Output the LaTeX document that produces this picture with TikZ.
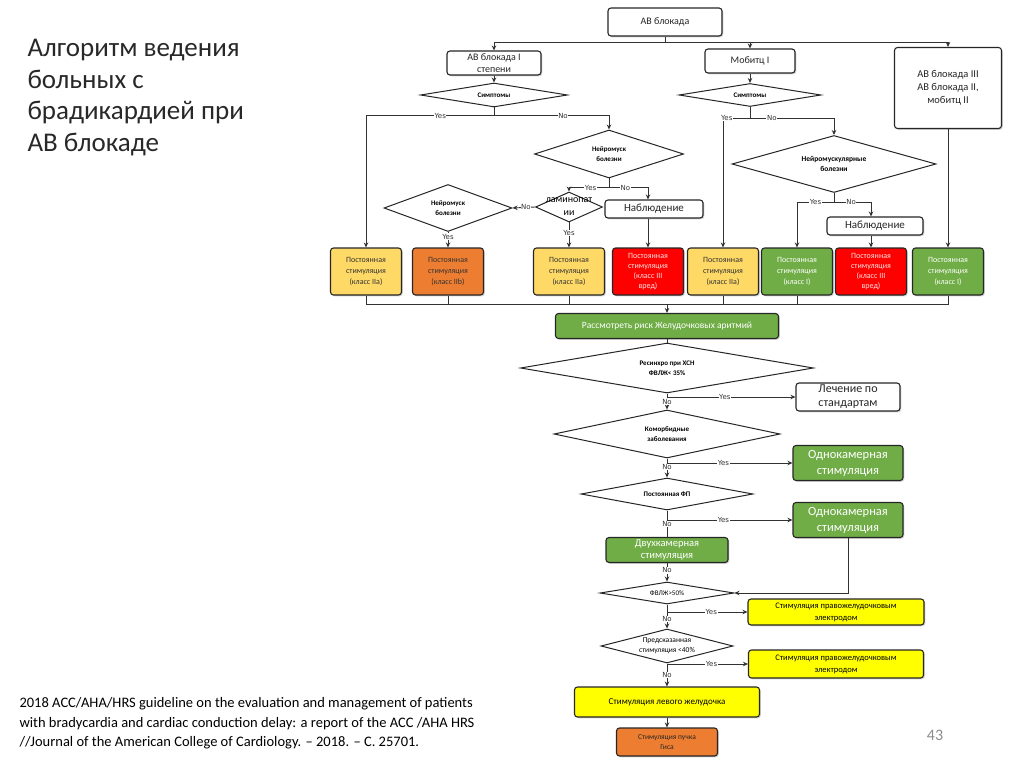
\documentclass[tikz,border=0pt]{standalone}
\usepackage{fontspec}
\setmainfont{Carlito}
\newfontfamily\lblfont{DejaVu Sans}
\usetikzlibrary{arrows.meta,shapes.geometric,shadows,calc}
\definecolor{pale}{RGB}{255,217,102}
\definecolor{orng}{RGB}{237,125,49}
\definecolor{grn}{RGB}{112,173,71}
\definecolor{rd}{RGB}{255,0,0}
\definecolor{ylw}{RGB}{255,255,0}
\definecolor{linegray}{RGB}{50,50,50}
\definecolor{titlegray}{RGB}{40,40,40}

\begin{document}
\begin{tikzpicture}
      [x = 1pt, y = -1pt,
      wire/.style = {draw = linegray, line width = 0.9pt},
      flow/.style = {wire, -{Stealth[length = 5pt, width = 4.5pt]}},
      box/.style = {
         draw = black!85,
         rounded corners = 3pt,
         line width = 1.1pt,
         align = center,
         inner sep = 1pt,
         drop shadow = {opacity = 0.35, shadow xshift = 1.3pt, shadow yshift = -1.3pt}
      },
      whitebox/.style = {box, fill = white, text = black!85},
      stim/.style = {box, minimum width = 71, minimum height = 47,
         font = \fontsize{8}{11}\selectfont},
      ask/.style = {
         draw = black!85,
         diamond,
         line width = 1pt,
         inner sep = 0pt,
         aspect = 5,
         align = center,
         fill = white,
         font = \fontsize{7}{10}\selectfont\bfseries
      },
      lbl/.style = {fill = white, inner sep = 0.6pt, text = black!80,
         font = \lblfont\fontsize{7}{7}\selectfont}]

      \useasboundingbox (0, 0) rectangle (1024, 767);

      % left column texts
      \node[anchor = north west, align = left, text = titlegray,
            font = \fontsize{27}{31.5}\selectfont] (title) at (24, 36)
            {Алгоритм ведения\\больных с\\брадикардией при\\АВ блокаде};
      \node[anchor = north west, align = left,
            font = \fontsize{14.5}{19.5}\selectfont] (source) at (16, 694)
            {2018 ACC/AHA/HRS guideline on the evaluation and management of patients\\
             with bradycardia and cardiac conduction delay: a report of the ACC /AHA HRS\\
             //Journal of the American College of Cardiology. -- 2018. -- С. 25701.};
      \node[text = black!45, font = \fontsize{16}{18}\selectfont] (pgnum) at (935, 735) {43};

      % upper part
      \node[whitebox, minimum width = 114, minimum height = 28,
            font = \fontsize{10}{12}\selectfont] (top) at (665, 22) {АВ блокада};
      \node[whitebox, minimum width = 94, minimum height = 24,
            font = \fontsize{10}{12}\selectfont] (ab1) at (494, 63) {АВ блокада I\\степени};
      \node[whitebox, minimum width = 90, minimum height = 24,
            font = \fontsize{10}{12}\selectfont] (mob) at (750, 61) {Мобитц I};
      \node[whitebox, minimum width = 107, minimum height = 81,
            font = \fontsize{10.5}{13}\selectfont] (ab3) at (948, 88)
            {АВ блокада III\\АВ блокада II,\\мобитц II};

      \node[ask, minimum width = 147, minimum height = 24] (sym1) at (494, 95) {Симптомы};
      \node[ask, minimum width = 142, minimum height = 23] (sym2) at (750, 95) {Симптомы};
      \node[ask, aspect = 3, minimum width = 149, minimum height = 48] (nm1) at (609, 154)
            {Нейромуск\\болезни};
      \node[ask, aspect = 3, minimum width = 204, minimum height = 57,
            font = \fontsize{7.5}{10}\selectfont\bfseries] (nmk) at (834, 164)
            {Нейромускулярные\\болезни};
      \node[ask, aspect = 3, minimum width = 128, minimum height = 47] (nm2) at (448, 208)
            {Нейромуск\\болезни};
      \node[ask, minimum width = 67, minimum height = 30] (lamin) at (569, 207) {};
      \node[align = center, font = \fontsize{10}{13}\selectfont] (lamintxt) at (569, 207)
            {ламинопат\\ии};

      \node[whitebox, minimum width = 98, minimum height = 18,
            font = \fontsize{11}{12}\selectfont] (obs1) at (654, 209) {Наблюдение};
      \node[whitebox, minimum width = 96, minimum height = 18,
            font = \fontsize{11}{12}\selectfont] (obs2) at (875, 226) {Наблюдение};

      % row of pacing classes
      \node[stim, fill = pale, text = black!80] (p1) at (366, 271.5)
            {Постоянная\\стимуляция\\(класс IIa)};
      \node[stim, fill = orng, text = black!80] (p2) at (448, 271.5)
            {Постоянная\\стимуляция\\(класс IIb)};
      \node[stim, fill = pale, text = black!80] (p3) at (569, 271.5)
            {Постоянная\\стимуляция\\(класс IIa)};
      \node[stim, fill = rd, text = red!10, font = \fontsize{8}{10}\selectfont] (p4) at (648, 271.5)
            {Постоянная\\стимуляция\\(класс III\\вред)};
      \node[stim, fill = pale, text = black!80] (p5) at (723, 271.5)
            {Постоянная\\стимуляция\\(класс IIa)};
      \node[stim, fill = grn, text = white] (p6) at (797, 271.5)
            {Постоянная\\стимуляция\\(класс I)};
      \node[stim, fill = rd, text = red!10, font = \fontsize{8}{10}\selectfont] (p7) at (871, 271.5)
            {Постоянная\\стимуляция\\(класс III\\вред)};
      \node[stim, fill = grn, text = white] (p8) at (948, 271.5)
            {Постоянная\\стимуляция\\(класс I)};

      % lower part
      \node[box, fill = grn, text = white, minimum width = 223, minimum height = 25,
            font = \fontsize{9.5}{11}\selectfont] (risk) at (667, 326)
            {Рассмотреть риск Желудочковых аритмий};
      \node[ask, aspect = 4, minimum width = 293, minimum height = 50] (resync) at (667, 368)
            {Ресинхро при ХСН\\ФВЛЖ< 35\%};
      \node[whitebox, minimum width = 104, minimum height = 28,
            font = \fontsize{12}{14}\selectfont] (std) at (848, 397) {Лечение по\\стандартам};
      \node[ask, aspect = 4, minimum width = 226, minimum height = 48] (comorb) at (667, 434)
            {Коморбидные\\заболевания};
      \node[box, fill = grn, text = white, minimum width = 110, minimum height = 35,
            font = \fontsize{12.5}{16}\selectfont] (single1) at (848, 463)
            {Однокамерная\\стимуляция};
      \node[ask, minimum width = 172, minimum height = 32] (af) at (667, 494) {Постоянная ФП};
      \node[box, fill = grn, text = white, minimum width = 110, minimum height = 35,
            font = \fontsize{12.5}{16}\selectfont] (single2) at (848, 520)
            {Однокамерная\\стимуляция};
      \node[box, fill = grn, text = white, minimum width = 122, minimum height = 25,
            font = \fontsize{10.5}{12.5}\selectfont] (dual) at (667, 550)
            {Двухкамерная\\стимуляция};
      \node[ask, minimum width = 134, minimum height = 22,
            font = \fontsize{7}{9}\selectfont] (ef) at (667, 593) {ФВЛЖ>50\%};
      \node[box, fill = ylw, text = black, minimum width = 176, minimum height = 26,
            font = \fontsize{8.5}{12}\selectfont] (rv1) at (836, 612)
            {Стимуляция правожелудочковым\\электродом};
      \node[ask, aspect = 3.6, minimum width = 132, minimum height = 34,
            font = \fontsize{7.5}{10}\selectfont] (pred) at (667, 646)
            {Предсказанная\\стимуляция <40\%};
      \node[box, fill = ylw, text = black, minimum width = 175, minimum height = 28,
            font = \fontsize{8.5}{12}\selectfont] (rv2) at (836, 664)
            {Стимуляция правожелудочковым\\электродом};
      \node[box, fill = ylw, text = black, minimum width = 185, minimum height = 30,
            font = \fontsize{9}{11}\selectfont] (lv) at (667, 702)
            {Стимуляция левого желудочка};
      \node[box, fill = orng, text = black!85, minimum width = 101, minimum height = 28,
            font = \fontsize{7.5}{10}\selectfont] (his) at (667, 742)
            {Стимуляция пучка\\Гиса};

      % connectors, top
      \draw[wire] (top.south) -- ++(0, 6) coordinate (split);
      \draw[flow] (split) -| (ab1.north);
      \draw[flow] (split) -| (mob.north);
      \draw[flow] (split) -| (ab3.north);
      \draw[flow] (ab1) -- (sym1);
      \draw[flow] (mob) -- (sym2);

      \draw[flow] (sym1.south) -- ++(0, 8) -| node[lbl, pos = 0.21] {Yes} (p1.north);
      \draw[flow] (sym1.south) ++(0, 8) -| node[lbl, pos = 0.3] {No} (nm1.north);
      \draw[flow] (nm1.south) -- ++(0, 9) -| node[lbl, pos = 0.23] {Yes} (lamin.north);
      \draw[flow] (nm1.south) ++(0, 9) -| node[lbl, pos = 0.21] {No} (p4.north |- obs1.north);
      \draw[flow] (lamin.south) -- node[lbl, pos = 0.42] {Yes} (p3.north);
      \draw[flow] (lamin.west) -- node[lbl, pos = 0.4] {No} (nm2.east);
      \draw[flow] (nm2.south) -- node[lbl, pos = 0.3] {Yes} (p2.north);
      \draw[flow] (p4.north |- obs1.south) -- (p4.north);

      \draw[flow] (sym2.south) -- ++(0, 11) -| node[lbl, pos = 0.43] {Yes} (p5.north);
      \draw[flow] (sym2.south) ++(0, 11) -| node[lbl, pos = 0.13] {No} (nmk.north);
      \draw[flow] (nmk.south) -- ++(0, 9) -| node[lbl, pos = 0.25] {Yes} (p6.north);
      \draw[flow] (nmk.south) ++(0, 9) -| node[lbl, pos = 0.23] {No} (p7.north |- obs2.north);
      \draw[flow] (p7.north |- obs2.south) -- (p7.north);
      \draw[flow] (ab3) -- (p8);

      % collecting bus
      \coordinate (bus) at (667, 304);
      \draw[wire] (p1.south) |- (p8.south |- bus) -- (p8.south);
      \foreach \b in {p2, p3, p5, p6}
         \draw[wire] (\b.south) -- (\b.south |- bus);
      \draw[flow] (bus) -- (risk.north);

      % connectors, bottom
      \draw[wire] (risk) -- (resync);
      \draw[flow] (resync.south) -- node[lbl, pos = 0.5] {No} (comorb.north);
      \draw[flow] (resync.south |- std.west) -- node[lbl, pos = 0.45] {Yes} (std.west);
      \draw[flow] (comorb.south) -- node[lbl, pos = 0.45] {No} (af.north);
      \draw[flow] (comorb.south |- single1.west) -- node[lbl, pos = 0.45] {Yes} (single1.west);
      \draw[wire] (af.south) -- node[lbl, pos = 0.5] {No} (dual.north);
      \draw[flow] (af.south |- single2.west) -- node[lbl, pos = 0.45] {Yes} (single2.west);
      \draw[flow] (dual.south) -- node[lbl, pos = 0.4] {No} (ef.north);
      \draw[flow] (single2.south) |- (ef.east);
      \draw[flow] (ef.south) -- node[lbl, pos = 0.6] {No} (pred.north);
      \draw[flow] (ef.south |- rv1.west) -- node[lbl, pos = 0.55] {Yes} (rv1.west);
      \draw[flow] (pred.south) -- node[lbl, pos = 0.5] {No} (lv.north);
      \draw[flow] (pred.south |- rv2.west) -- node[lbl, pos = 0.55] {Yes} (rv2.west);
      \draw[flow] (lv) -- (his);

   \end{tikzpicture}
\end{document}
